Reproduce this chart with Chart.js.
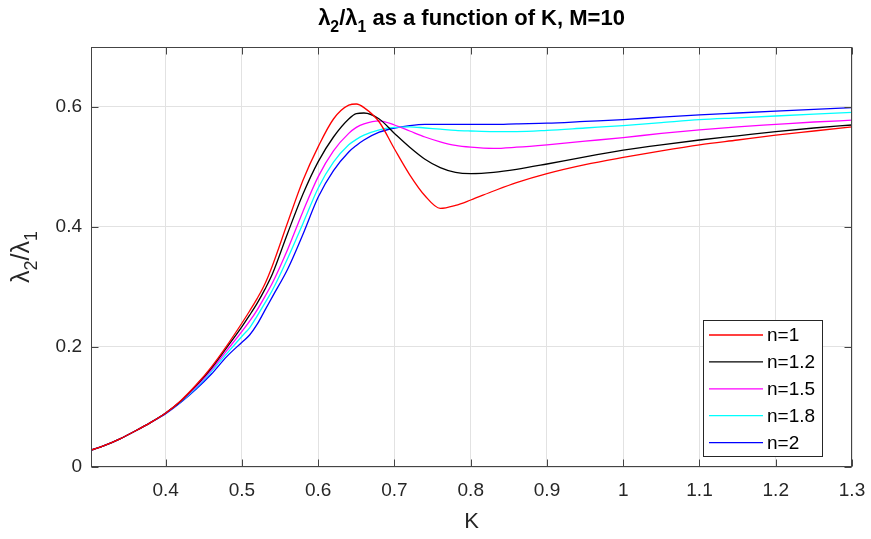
<!DOCTYPE html>
<html>
<head>
<meta charset="utf-8">
<script src="https://cdn.jsdelivr.net/npm/chart.js@4.4.1/dist/chart.umd.min.js"></script>
<style>
  html, body { margin: 0; padding: 0; background: #fff; }
</style>
</head>
<body>
<canvas id="chart" width="871" height="539"></canvas>
<script>
// K values (x axis) shared by all curves
const kValues = [0.302, 0.32, 0.34, 0.36, 0.38, 0.40, 0.42, 0.44, 0.46, 0.48,
  0.50, 0.51, 0.52, 0.53, 0.54, 0.56, 0.58, 0.60, 0.62, 0.64,
  0.65, 0.66, 0.68, 0.70, 0.72, 0.74, 0.76, 0.78, 0.80, 0.83,
  0.86, 0.90, 0.95, 1.0, 1.05, 1.1, 1.15, 1.2, 1.25, 1.3];

// lambda2/lambda1
const ratioN1 = [0.028, 0.036, 0.047, 0.060, 0.074, 0.090, 0.111, 0.137, 0.167, 0.202,
  0.240, 0.260, 0.281, 0.305, 0.336, 0.408, 0.478, 0.534, 0.580, 0.603,
  0.605, 0.599, 0.575, 0.530, 0.487, 0.452, 0.431, 0.436, 0.445, 0.460,
  0.474, 0.489, 0.504, 0.516, 0.527, 0.537, 0.545, 0.553, 0.560, 0.567];
const ratioN12 = [0.028, 0.036, 0.047, 0.060, 0.074, 0.090, 0.110, 0.136, 0.165, 0.199,
  0.234, 0.253, 0.273, 0.296, 0.322, 0.390, 0.455, 0.509, 0.550, 0.580,
  0.589, 0.590, 0.580, 0.556, 0.533, 0.513, 0.499, 0.491, 0.489, 0.491,
  0.496, 0.505, 0.517, 0.528, 0.537, 0.545, 0.552, 0.559, 0.565, 0.570];
const ratioN15 = [0.028, 0.036, 0.047, 0.060, 0.074, 0.090, 0.110, 0.134, 0.162, 0.194,
  0.226, 0.243, 0.262, 0.284, 0.307, 0.363, 0.426, 0.484, 0.527, 0.556,
  0.566, 0.572, 0.577, 0.570, 0.560, 0.550, 0.542, 0.536, 0.533, 0.531,
  0.533, 0.537, 0.543, 0.549, 0.556, 0.562, 0.567, 0.571, 0.575, 0.578];
const ratioN18 = [0.028, 0.036, 0.047, 0.060, 0.074, 0.090, 0.109, 0.132, 0.159, 0.189,
  0.218, 0.232, 0.252, 0.273, 0.295, 0.348, 0.406, 0.465, 0.508, 0.537,
  0.546, 0.553, 0.562, 0.566, 0.567, 0.565, 0.563, 0.561, 0.560, 0.559,
  0.559, 0.561, 0.565, 0.569, 0.574, 0.579, 0.582, 0.585, 0.588, 0.591];
const ratioN2 = [0.028, 0.036, 0.047, 0.060, 0.074, 0.089, 0.108, 0.130, 0.155, 0.184,
  0.208, 0.220, 0.238, 0.261, 0.284, 0.330, 0.388, 0.450, 0.494, 0.525,
  0.536, 0.545, 0.558, 0.565, 0.569, 0.571, 0.571, 0.571, 0.571, 0.571,
  0.572, 0.573, 0.576, 0.579, 0.583, 0.587, 0.590, 0.593, 0.596, 0.599];

const seriesLabels = ['n=1', 'n=1.2', 'n=1.5', 'n=1.8', 'n=2'];
const seriesColors = ['#ff0000', '#000000', '#ff00ff', '#00ffff', '#0000ff'];
const seriesValues = [ratioN1, ratioN12, ratioN15, ratioN18, ratioN2];

const xTicks = [0.4, 0.5, 0.6, 0.7, 0.8, 0.9, 1, 1.1, 1.2, 1.3];
const yTicks = [0, 0.2, 0.4, 0.6];

const FONT = '"Liberation Sans", Arial, Helvetica, sans-serif';
const AXIS_COLOR = '#444444';
const TEXT_COLOR = '#262626';

// draws centred text made of normal and subscript pieces
function drawRich(ctx, parts, x, y, size, weight) {
  let width = 0;
  parts.forEach(p => {
    const s = p.sub ? size * 0.72 : size;
    ctx.font = weight + ' ' + s + 'px ' + FONT;
    p.w = ctx.measureText(p.t).width;
    p.s = s;
    width += p.w;
  });
  let cx = x - width / 2;
  ctx.textAlign = 'left';
  ctx.textBaseline = 'alphabetic';
  parts.forEach(p => {
    ctx.font = weight + ' ' + p.s + 'px ' + FONT;
    ctx.fillText(p.t, cx, p.sub ? y + size * 0.3 : y);
    cx += p.w;
  });
}

const ratioText = () => [{ t: 'λ' }, { t: '2', sub: true }, { t: '/λ' }, { t: '1', sub: true }];

const decorPlugin = {
  id: 'decor',
  afterDatasetsDraw(chart) {
    const { ctx, chartArea: a, scales } = chart;
    const L = Math.round(a.left) + 0.5, R = Math.round(a.right) - 0.5;
    const T = Math.round(a.top) + 0.5, B = Math.round(a.bottom) - 0.5;
    ctx.save();
    ctx.strokeStyle = AXIS_COLOR;
    ctx.lineWidth = 1;
    ctx.strokeRect(L, T, R - L, B - T);
    // inward tick marks
    ctx.beginPath();
    xTicks.forEach(v => {
      const px = Math.round(scales.x.getPixelForValue(v)) + 0.5;
      ctx.moveTo(px, B); ctx.lineTo(px, B - 7);
      ctx.moveTo(px, T); ctx.lineTo(px, T + 7);
    });
    yTicks.forEach(v => {
      const py = Math.round(scales.y.getPixelForValue(v)) + 0.5;
      ctx.moveTo(L, py); ctx.lineTo(L + 7, py);
      ctx.moveTo(R, py); ctx.lineTo(R - 7, py);
    });
    ctx.stroke();

    // legend box
    const bx = 703.5, by = 320.5, bw = 119, bh = 136;
    ctx.fillStyle = '#ffffff';
    ctx.fillRect(bx, by, bw, bh);
    ctx.strokeStyle = '#262626';
    ctx.strokeRect(bx, by, bw, bh);
    chart.data.datasets.forEach((ds, i) => {
      const ly = 335 + i * 26.9;
      ctx.strokeStyle = ds.borderColor;
      ctx.lineWidth = 1.3;
      ctx.beginPath();
      ctx.moveTo(709, ly); ctx.lineTo(763, ly);
      ctx.stroke();
      ctx.fillStyle = '#000000';
      ctx.font = '19px ' + FONT;
      ctx.textAlign = 'left';
      ctx.textBaseline = 'middle';
      ctx.fillText(ds.label, 767, ly + 1);
    });

    // title and axis labels
    const cx = (a.left + a.right) / 2;
    ctx.fillStyle = '#000000';
    drawRich(ctx, ratioText().concat([{ t: ' as a function of K, M=10' }]), cx, 25, 22, 'bold');
    ctx.fillStyle = TEXT_COLOR;
    drawRich(ctx, [{ t: 'K' }], cx, 528, 22, 'normal');
    ctx.save();
    ctx.translate(29, (a.top + a.bottom) / 2);
    ctx.rotate(-Math.PI / 2);
    drawRich(ctx, ratioText(), 0, 0, 25, 'normal');
    ctx.restore();
    ctx.restore();
  }
};

new Chart(document.getElementById('chart').getContext('2d'), {
  type: 'line',
  data: {
    datasets: seriesLabels.map((label, i) => ({
      label: label,
      data: kValues.map((k, j) => ({ x: k, y: seriesValues[i][j] })),
      borderColor: seriesColors[i],
      borderWidth: 1.3,
      pointRadius: 0,
      fill: false,
      cubicInterpolationMode: 'monotone'
    }))
  },
  options: {
    responsive: false,
    animation: false,
    layout: { padding: { top: 47, right: 19, left: 0, bottom: 0 } },
    plugins: {
      legend: { display: false },
      title: { display: false },
      tooltip: { enabled: false }
    },
    scales: {
      x: {
        type: 'linear',
        min: 0.302,
        max: 1.3,
        afterFit: s => { s.height = 72; s.paddingLeft = 0; s.paddingRight = 0; },
        afterBuildTicks: s => { s.ticks = xTicks.map(v => ({ value: v })); },
        ticks: {
          padding: 12,
          color: TEXT_COLOR,
          font: { family: FONT, size: 19 },
          maxRotation: 0,
          autoSkip: false,
          callback: v => String(v)
        },
        grid: { color: '#e2e2e2', drawTicks: false },
        border: { display: false }
      },
      y: {
        min: 0,
        max: 0.7,
        afterFit: s => { s.width = 91; s.paddingTop = 0; s.paddingBottom = 0; },
        afterBuildTicks: s => { s.ticks = yTicks.map(v => ({ value: v })); },
        ticks: {
          padding: 9,
          color: TEXT_COLOR,
          font: { family: FONT, size: 19 },
          callback: v => String(v)
        },
        grid: { color: '#e2e2e2', drawTicks: false },
        border: { display: false }
      }
    }
  },
  plugins: [decorPlugin]
});
</script>
</body>
</html>
